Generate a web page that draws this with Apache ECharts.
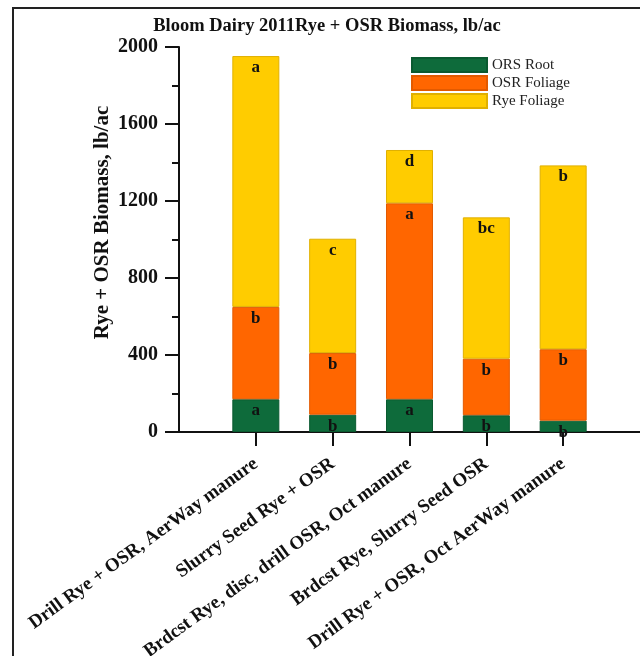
<!DOCTYPE html>
<html>
<head>
<meta charset="utf-8">
<script src="https://cdn.jsdelivr.net/npm/echarts@6/dist/echarts.min.js"></script>
<style>
html,body{margin:0;padding:0;background:#fff;}
#chart{width:640px;height:656px;}
</style>
</head>
<body>
<div id="chart"></div>
<script>
const categories = [
  'Drill Rye + OSR, AerWay manure',
  'Slurry Seed Rye + OSR',
  'Brdcst Rye, disc, drill OSR, Oct manure',
  'Brdcst Rye, Slurry Seed OSR',
  'Drill Rye + OSR, Oct AerWay manure'
];
const seriesNames = ['ORS Root', 'OSR Foliage', 'Rye Foliage'];
const orsRoot = [170, 90, 170, 87, 59];
const osrFoliage = [480, 320, 1018, 294, 371];
const ryeFoliage = [1303, 594, 277, 734, 955];
const rootLetters = ['a', 'b', 'a', 'b', 'b'];
const osrLetters = ['b', 'b', 'a', 'b', 'b'];
const ryeLetters = ['a', 'c', 'd', 'bc', 'b'];
const yTicks = [0, 400, 800, 1200, 1600, 2000];

const colors = ['#0e6b3b', '#ff6600', '#ffcc00'];
const borders = ['#0a5a30', '#e25a00', '#e0b000'];
const serif = '"Liberation Serif", "Times New Roman", serif';

const axisCats = [''].concat(categories, ['']);
function pad(arr) { return [null].concat(arr, [null]); }

function makeSeries(name, values, letters, idx) {
  return {
    name: name,
    type: 'bar',
    stack: 'total',
    barWidth: 47,
    data: pad(values).map((v, i) => ({
      value: v,
      label: { formatter: v == null ? '' : letters[i - 1] }
    })),
    itemStyle: { color: colors[idx], borderColor: borders[idx], borderWidth: 1 },
    label: {
      show: true,
      position: 'insideTop',
      distance: 3,
      color: '#111',
      fontFamily: serif,
      fontWeight: 'bold',
      fontSize: 17
    },
    emphasis: { disabled: true }
  };
}

const chart = echarts.init(document.getElementById('chart'));
chart.setOption({
  animation: false,
  backgroundColor: '#fff',
  title: {
    text: 'Bloom Dairy 2011Rye + OSR Biomass, lb/ac',
    left: 322,
    textAlign: 'center',
    top: 12,
    textStyle: { fontFamily: serif, fontWeight: 'bold', fontSize: 18.5, color: '#111' }
  },
  legend: {
    orient: 'vertical',
    left: 406,
    top: 52,
    itemWidth: 75,
    itemHeight: 14,
    itemGap: 2,
    icon: 'rect',
    data: seriesNames,
    textStyle: { fontFamily: serif, fontSize: 15, color: '#222' }
  },
  grid: { left: 179, right: 0, top: 47, bottom: 224, containLabel: false, outerBoundsMode: 'none' },
  xAxis: {
    type: 'category',
    data: axisCats,
    boundaryGap: false,
    axisLine: { lineStyle: { color: '#111', width: 2 } },
    axisTick: {
      length: 14,
      lineStyle: { color: '#111', width: 2 },
      interval: (i) => i > 0 && i < axisCats.length - 1
    },
    axisLabel: {
      interval: 0,
      rotate: 36,
      margin: 30,
      color: '#111',
      fontFamily: serif,
      fontWeight: 'bold',
      fontSize: 19
    },
    splitLine: { show: false }
  },
  yAxis: {
    type: 'value',
    min: yTicks[0],
    max: yTicks[yTicks.length - 1],
    interval: yTicks[1] - yTicks[0],
    name: 'Rye + OSR Biomass, lb/ac',
    nameLocation: 'middle',
    nameGap: 66,
    nameMoveOverlap: false,
    nameTextStyle: { fontFamily: serif, fontWeight: 'bold', fontSize: 21, color: '#111', padding: [0, 0, 0, 34] },
    axisLine: { show: true, lineStyle: { color: '#111', width: 2 } },
    axisTick: { show: true, length: 14, lineStyle: { color: '#111', width: 2 } },
    minorTick: { show: true, splitNumber: 2, length: 7, lineStyle: { color: '#111', width: 2 } },
    axisLabel: { margin: 21, color: '#111', fontFamily: serif, fontWeight: 'bold', fontSize: 20, formatter: (v) => String(v) },
    splitLine: { show: false }
  },
  graphic: [{
    type: 'rect',
    shape: { x: 13, y: 8, width: 700, height: 700 },
    style: { fill: 'none', stroke: '#222', lineWidth: 2 },
    silent: true
  }],
  series: [
    makeSeries(seriesNames[0], orsRoot, rootLetters, 0),
    makeSeries(seriesNames[1], osrFoliage, osrLetters, 1),
    makeSeries(seriesNames[2], ryeFoliage, ryeLetters, 2)
  ]
});
</script>
</body>
</html>
